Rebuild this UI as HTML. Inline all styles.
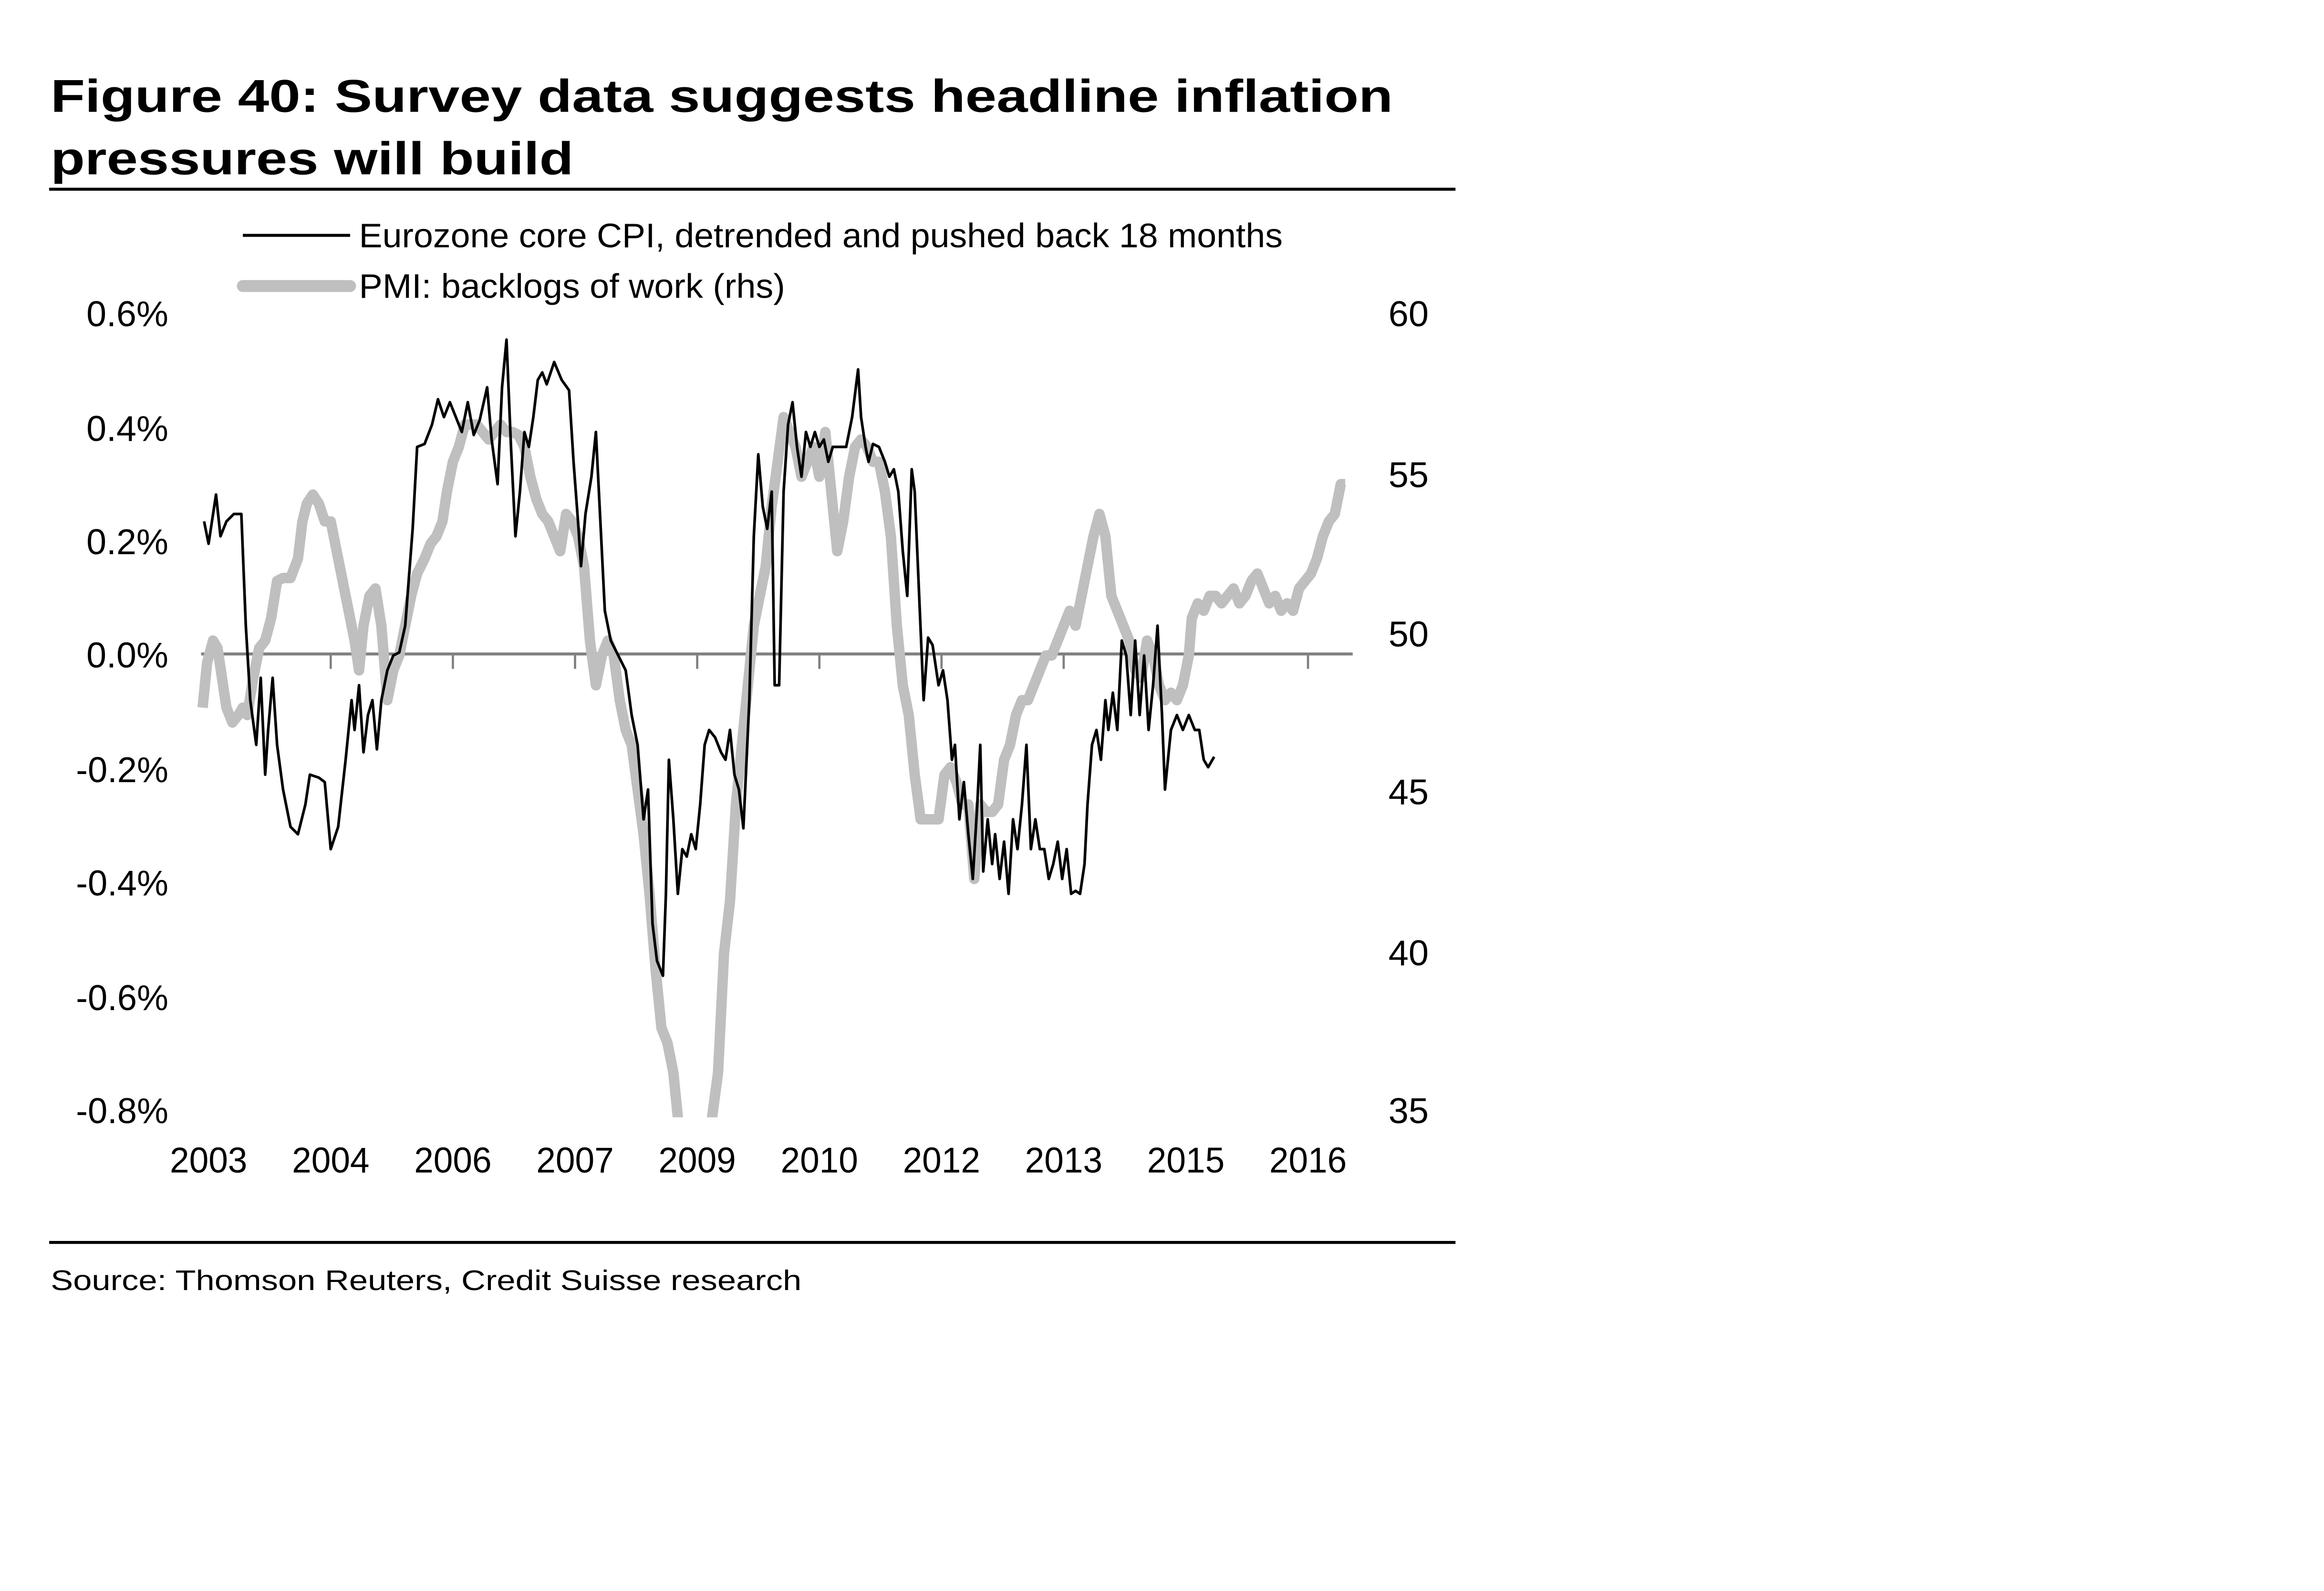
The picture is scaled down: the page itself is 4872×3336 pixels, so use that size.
<!DOCTYPE html>
<html><head><meta charset="utf-8"><style>
html,body{margin:0;padding:0;background:#fff;}
svg{display:block}
</style></head><body>
<svg xmlns="http://www.w3.org/2000/svg" width="4872" height="3336" viewBox="0 0 1560 1068" preserveAspectRatio="none">
<rect width="1560" height="1068" fill="#fff"/>
<g font-family="Liberation Sans, Arial, sans-serif">
<text x="34" y="75" font-size="31" font-weight="bold" fill="#000" textLength="901" lengthAdjust="spacingAndGlyphs">Figure 40: Survey data suggests headline inflation</text>
<text x="34" y="117" font-size="31" font-weight="bold" fill="#000" textLength="351" lengthAdjust="spacingAndGlyphs">pressures will build</text>
<line x1="33" y1="127" x2="977" y2="127" stroke="#000" stroke-width="2"/>
<line x1="33" y1="834" x2="977" y2="834" stroke="#000" stroke-width="2"/>
<text x="34" y="866" font-size="19" fill="#000" textLength="504" lengthAdjust="spacingAndGlyphs">Source: Thomson Reuters, Credit Suisse research</text>

<line x1="163" y1="158" x2="235" y2="158" stroke="#000" stroke-width="2"/>
<text x="241" y="166" font-size="23" textLength="620" lengthAdjust="spacingAndGlyphs">Eurozone core CPI, detrended and pushed back 18 months</text>
<line x1="163" y1="192" x2="235" y2="192" stroke="#bfbfbf" stroke-width="8" stroke-linecap="round"/>
<text x="241" y="200" font-size="23" textLength="286" lengthAdjust="spacingAndGlyphs">PMI: backlogs of work (rhs)</text>

<g font-size="24" text-anchor="end">
<text x="113" y="219" textLength="55" lengthAdjust="spacingAndGlyphs">0.6%</text>
<text x="113" y="296" textLength="55" lengthAdjust="spacingAndGlyphs">0.4%</text>
<text x="113" y="372" textLength="55" lengthAdjust="spacingAndGlyphs">0.2%</text>
<text x="113" y="448" textLength="55" lengthAdjust="spacingAndGlyphs">0.0%</text>
<text x="113" y="525" textLength="62" lengthAdjust="spacingAndGlyphs">-0.2%</text>
<text x="113" y="601" textLength="62" lengthAdjust="spacingAndGlyphs">-0.4%</text>
<text x="113" y="678" textLength="62" lengthAdjust="spacingAndGlyphs">-0.6%</text>
<text x="113" y="754" textLength="62" lengthAdjust="spacingAndGlyphs">-0.8%</text>
</g>
<g font-size="24">
<text x="932" y="219" textLength="27" lengthAdjust="spacingAndGlyphs">60</text>
<text x="932" y="327" textLength="27" lengthAdjust="spacingAndGlyphs">55</text>
<text x="932" y="434" textLength="27" lengthAdjust="spacingAndGlyphs">50</text>
<text x="932" y="540" textLength="27" lengthAdjust="spacingAndGlyphs">45</text>
<text x="932" y="648" textLength="27" lengthAdjust="spacingAndGlyphs">40</text>
<text x="932" y="754" textLength="27" lengthAdjust="spacingAndGlyphs">35</text>
</g>
<g font-size="24" text-anchor="middle">
<text x="140" y="787" textLength="52" lengthAdjust="spacingAndGlyphs">2003</text>
<text x="222" y="787" textLength="52" lengthAdjust="spacingAndGlyphs">2004</text>
<text x="304" y="787" textLength="52" lengthAdjust="spacingAndGlyphs">2006</text>
<text x="386" y="787" textLength="52" lengthAdjust="spacingAndGlyphs">2007</text>
<text x="468" y="787" textLength="52" lengthAdjust="spacingAndGlyphs">2009</text>
<text x="550" y="787" textLength="52" lengthAdjust="spacingAndGlyphs">2010</text>
<text x="632" y="787" textLength="52" lengthAdjust="spacingAndGlyphs">2012</text>
<text x="714" y="787" textLength="52" lengthAdjust="spacingAndGlyphs">2013</text>
<text x="796" y="787" textLength="52" lengthAdjust="spacingAndGlyphs">2015</text>
<text x="878" y="787" textLength="52" lengthAdjust="spacingAndGlyphs">2016</text>
</g>
</g>
<line x1="135" y1="439" x2="908" y2="439" stroke="#808080" stroke-width="2"/>
<g stroke="#808080" stroke-width="1.5">
<line x1="222" y1="439" x2="222" y2="449"/><line x1="304" y1="439" x2="304" y2="449"/>
<line x1="386" y1="439" x2="386" y2="449"/><line x1="468" y1="439" x2="468" y2="449"/>
<line x1="550" y1="439" x2="550" y2="449"/><line x1="632" y1="439" x2="632" y2="449"/>
<line x1="714" y1="439" x2="714" y2="449"/><line x1="796" y1="439" x2="796" y2="449"/>
<line x1="878" y1="439" x2="878" y2="449"/>
</g>
<clipPath id="c"><rect x="120" y="200" width="800" height="550"/></clipPath>
<g clip-path="url(#c)" fill="none" stroke-linejoin="round">
<polyline stroke="#bfbfbf" stroke-width="7" points="136,475 139,445 143,430 146,435 149,455 152,475 156,485 160,480 163,475 166,480 170,455 174,435 178,430 182,415 186,390 190,388 195,388 200,375 203,350 206,338 210,332 214,338 218,350 222,350 226,370 230,390 234,410 238,430 241,450 244,420 248,400 252,395 256,420 260,470 264,450 268,440 272,420 276,400 280,385 285,375 289,365 293,360 297,350 300,330 304,310 308,300 312,285 316,285 320,285 324,290 328,295 332,290 336,285 340,290 344,290 348,292 352,300 356,320 360,335 364,345 368,350 372,360 376,370 380,345 384,350 388,360 392,380 396,430 400,460 404,440 408,430 412,440 416,470 420,490 424,500 428,530 432,560 436,600 440,650 444,690 448,700 452,720 455,750 458,780 476,780 478,750 482,720 486,640 490,605 494,540 498,500 502,460 506,420 510,400 514,380 518,340 522,310 526,280 530,290 534,300 538,320 542,310 546,300 550,320 554,290 558,330 562,370 566,350 570,320 574,300 578,295 582,300 586,310 590,310 594,330 598,360 602,420 606,460 610,480 614,520 618,550 622,550 626,550 630,550 634,520 638,515 642,525 646,540 650,540 654,590 658,540 662,545 666,545 670,540 674,510 678,500 682,480 686,470 690,470 694,460 698,450 702,440 706,440 710,430 714,420 718,410 722,420 726,400 730,380 734,360 738,345 742,360 746,400 750,410 754,420 758,430 762,450 766,455 770,430 774,440 778,460 782,470 786,465 790,470 794,460 798,440 800,415 804,405 808,410 812,400 816,400 820,405 824,400 828,395 832,405 836,400 840,390 844,385 848,395 852,405 856,400 860,410 864,405 868,410 872,395 876,390 880,385 884,375 888,360 892,350 896,345 900,325 903,325"/>
<polyline stroke="#000" stroke-width="1.8" points="137,350 140,365 145,332 148,360 152,350 157,345 162,345 165,420 168,470 172,500 175,455 178,520 180,490 183,455 186,500 190,530 195,555 200,560 205,540 208,520 214,522 218,525 222,570 227,555 232,510 236,470 238,490 241,460 244,505 247,480 250,470 253,503 256,470 260,450 264,440 268,438 272,420 277,355 280,300 285,298 290,285 294,268 298,280 302,270 306,280 310,290 314,270 318,292 322,282 327,260 330,295 334,325 337,260 340,228 343,300 346,360 349,330 352,290 355,300 358,280 361,255 364,250 367,258 372,243 377,255 382,262 385,310 388,350 390,380 393,345 397,320 400,290 403,350 406,410 410,430 415,440 420,450 424,480 428,500 432,550 435,530 438,620 441,645 445,655 447,600 449,510 452,550 455,600 458,570 461,575 464,560 467,570 470,540 473,500 476,490 480,495 484,505 487,510 490,490 493,520 496,530 499,556 503,470 506,360 509,305 512,340 515,355 518,330 520,460 523,460 526,330 529,285 532,270 535,300 538,320 541,290 544,300 547,290 550,300 553,295 556,310 559,300 562,300 565,300 568,300 572,280 576,248 578,280 581,300 583,310 586,298 590,300 594,310 597,320 600,315 603,330 606,370 609,400 612,315 614,330 617,400 620,470 623,428 626,433 630,460 633,450 636,470 639,510 641,500 644,550 647,525 650,560 653,590 656,540 658,500 660,585 663,550 666,580 668,560 671,590 674,565 677,600 680,550 683,570 686,540 689,500 692,570 695,550 698,570 701,570 704,590 707,580 710,565 713,590 716,570 719,600 722,598 725,600 728,580 730,540 733,500 736,490 739,510 742,470 744,490 747,465 750,490 753,430 756,440 759,480 762,430 765,480 768,440 771,490 774,460 777,420 780,480 782,530 786,490 790,480 794,490 798,480 802,490 805,490 808,510 811,515 815,508"/>
</g>
</svg>
</body></html>
